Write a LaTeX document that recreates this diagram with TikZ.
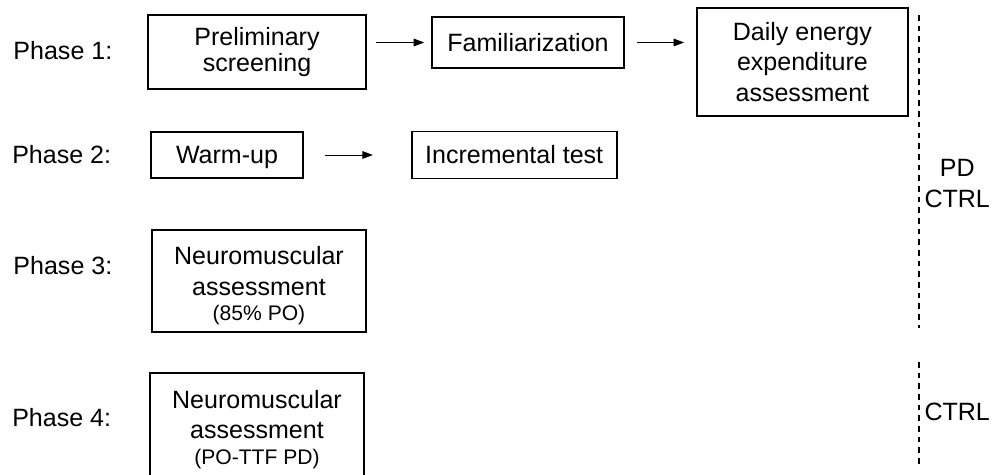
\documentclass[tikz,border=0pt]{standalone}
\usepackage{fontspec}
\setmainfont{Liberation Sans}
\usetikzlibrary{positioning, arrows.meta}

\begin{document}
\begin{tikzpicture}[
        font=\fontsize{17.8}{21.6}\selectfont,
        box/.style={draw, line width=1.2pt, align=center, inner sep=0pt, minimum width=#1},
        box/.default=5.35cm,
        phase/.style={anchor=west, inner sep=0pt},
        arr/.style={-{Triangle[length=7.5pt, width=5.5pt]}, line width=0.65pt},
        sep/.style={dash pattern=on 4pt off 3.6pt, line width=0.9pt},
    ]
    \useasboundingbox (0,0) rectangle (24.9,-11.85);

    % ---- Phase labels ----
    \node[phase] (ph1) at (0.33,-1.275) {Phase 1:};
    \node[phase] (ph2) at (0.30,-3.875) {Phase 2:};
    \node[phase] (ph3) at (0.33,-6.64) {Phase 3:};
    \node[phase] (ph4) at (0.30,-10.45) {Phase 4:};

    % ---- Phase 1 ----
    \node[box=5.45cm, minimum height=1.85cm] (prelim) at (6.425,-1.3) {Preliminary\\[-3pt]screening};
    \node[box=4.8cm, minimum height=1.275cm] (famil) at (13.2,-1.0625) {Familiarization};
    \node[box=5.275cm, minimum height=2.7cm] (daily) at (20.06,-1.55) {Daily energy\\expenditure\\assessment};

    \draw[arr, shorten <=0.225cm, shorten >=0.175cm] (prelim.east |- famil.west) -- (famil.west);
    \draw[arr, shorten <=0.3cm, shorten >=0.3cm] (famil.east) -- (famil.east -| daily.west);

    % ---- Phase 2 ----
    \node[box=3.8cm, minimum height=1.15cm, text depth=0pt] (warmup) at (5.675,-3.875) {Warm-up};
    \node[box=5.125cm, minimum height=1.175cm, right=2.675cm of warmup] (incr) {Incremental test};

    \draw[arr, shorten <=0.525cm, shorten >=0.95cm] (warmup.east) -- (incr.west);

    % ---- Phase 3 ----
    \node[box, minimum height=2.55cm] (neuro3) at (6.475,-7.025)
        {\rule{0pt}{20pt}Neuromuscular\\assessment\\[-3.5pt]{\fontsize{15}{18}\selectfont (85\% PO)}};

    % ---- Phase 4 ----
    \node[box, minimum height=2.6cm] (neuro4) at (6.425,-10.625)
        {\rule{0pt}{19pt}Neuromuscular\\assessment\\[-3.5pt]{\fontsize{15}{18}\selectfont (PO-TTF PD)}};

    % ---- Groups ----
    \coordinate (sepA) at (22.975,-0.375);
    \coordinate (sepB) at (22.975,-8.2);
    \coordinate (sepC) at (22.975,-9.05);
    \coordinate (sepD) at (22.975,-11.625);
    \draw[sep] (sepA) -- (sepB);
    \draw[sep] (sepC) -- (sepD);

    \node[align=center] (grp1) at (23.93,-4.59) {PD\\CTRL};
    \node (grp2) at (23.93,-10.29) {CTRL};
\end{tikzpicture}
\end{document}
